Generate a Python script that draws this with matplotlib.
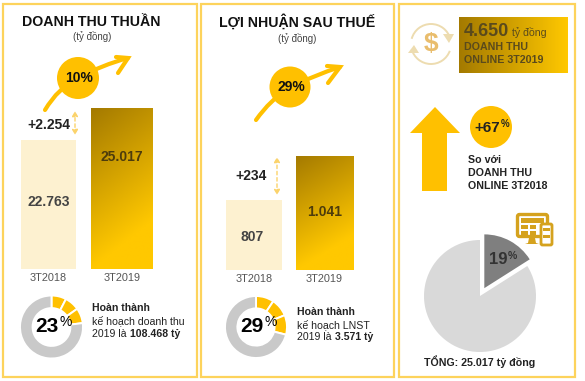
import numpy as np
import matplotlib
matplotlib.use("Agg")
import matplotlib.pyplot as plt
from matplotlib.colors import LinearSegmentedColormap
from matplotlib.patches import Rectangle, Circle, Polygon, PathPatch, Arc, FancyBboxPatch
from matplotlib.path import Path

plt.rcParams["font.family"] = ["Liberation Sans", "DejaVu Sans"]

# ====================================
# data

periods = ["3T2018", "3T2019"]

revenue = [22763, 25017]
revenue_labels = ["22.763", "25.017"]
revenue_axis_floor = 13680   # bars in the picture do not start at zero

profit = [807, 1041]
profit_labels = ["807", "1.041"]
profit_axis_floor = 435

revenue_done = [7.6, 7.6, 7.8, 77.0]   # 23% shown in three pieces
profit_done = [9.4, 9.4, 10.2, 71.0]   # 29% shown in three pieces

online_share = [16, 84]   # drawn slice, printed label says 19%

# ====================================

W, H = 585, 381
YELLOW = "#ffc000"
FRAME = "#fdd35c"
PALE = "#fdf1d0"
gold = LinearSegmentedColormap.from_list("gold", ["#a47a00", "#ffc800"])

fig = plt.figure(figsize=(W / 100, H / 100), dpi=100)


def px_axes(left, top, right, bottom):
    return fig.add_axes([left / W, 1 - bottom / H, (right - left) / W, (bottom - top) / H])


# overlay for text and shapes, sits above the chart axes
ax = px_axes(0, 0, W, H)
ax.set_xlim(0, W)
ax.set_ylim(H, 0)
ax.axis("off")
ax.set_zorder(5)


def txt(x, y, s, size=7.6, bold=False, color="#222222", ha="left"):
    return ax.text(x, y, s, fontsize=size, fontweight="bold" if bold else "normal",
                   color=color, ha=ha, va="center", zorder=10)


# frames
for x0, x1 in [(2.5, 196.5), (201, 393.5), (398.5, 575)]:
    ax.add_patch(Rectangle((x0, 4), x1 - x0, 373, fc="none", ec=FRAME, lw=1.6))


def bars(box, values, floor, widths, xlim):
    bar_ax = px_axes(*box)
    rects = bar_ax.bar([0, 1], values, width=widths, color=[PALE, "#e0aa00"], zorder=2)
    # second bar has a gold gradient, dark in the top left corner
    x0 = rects[1].get_x()
    xx, yy = np.meshgrid(np.linspace(0, 1, 60), np.linspace(0, 1, 120))
    shade = np.clip(yy + 0.3 * xx, 0, 1)
    bar_ax.imshow(shade, cmap=gold, aspect="auto", vmin=0, vmax=1, zorder=3,
                  extent=(x0, x0 + rects[1].get_width(), floor, values[1]))
    bar_ax.set_xlim(*xlim)
    bar_ax.set_ylim(floor, max(values))
    bar_ax.set_xticks([0, 1], periods, fontsize=7.8, color="#555555")
    bar_ax.set_yticks([])
    bar_ax.tick_params(axis="x", length=0, pad=3)
    for s in bar_ax.spines.values():
        s.set_visible(False)
    bar_ax.patch.set_alpha(0)
    return bar_ax


rev_ax = bars((21, 108, 153, 269), revenue, revenue_axis_floor, [0.75, 0.84], (-0.375, 1.42))
rev_ax.text(0, 18380, revenue_labels[0], fontsize=10, fontweight="bold", color="#444444", ha="center", va="center", zorder=5)
rev_ax.text(1, 21550, revenue_labels[1], fontsize=10, fontweight="bold", color="#4d3c0c", ha="center", va="center", zorder=5)

pro_ax = bars((226, 156, 353, 270), profit, profit_axis_floor, [0.794, 0.81], (-0.397, 1.405))
pro_ax.text(-0.03, 613, profit_labels[0], fontsize=10, fontweight="bold", color="#444444", ha="center", va="center", zorder=5)
pro_ax.text(1, 744, profit_labels[1], fontsize=10, fontweight="bold", color="#4d3c0c", ha="center", va="center", zorder=5)

# titles
txt(91.5, 22, "DOANH THU THUẦN", 10.2, True, "#111111", "center")
txt(92, 37, "(tỷ đồng)", 7, False, "#444444", "center")
txt(297, 22, "LỢI NHUẬN SAU THUẾ", 10.2, True, "#111111", "center")
txt(297.5, 38, "(tỷ đồng)", 7, False, "#444444", "center")


# growth arrows with circle
def growth(start, ctrl, mid, ctrl2, tip, head_a, head_b, centre, r, label):
    verts = [start, ctrl, mid, ctrl2, tip]
    codes = [Path.MOVETO, Path.CURVE3, Path.CURVE3, Path.CURVE3, Path.CURVE3]
    ax.add_patch(PathPatch(Path(verts, codes), fc="none", ec=YELLOW, lw=3, capstyle="round"))
    ax.add_patch(PathPatch(Path([head_a, tip, head_b]), fc="none", ec=YELLOW, lw=3,
                           capstyle="round", joinstyle="miter"))
    ax.add_patch(Circle(centre, r, fc=YELLOW, ec="none", zorder=3))
    txt(centre[0] + 1, centre[1], label, 10, True, "#111111", "center")


growth((45, 110), (58, 88), (78, 78), (102, 65), (128, 58), (116, 57), (118, 73), (78, 78), 21, "10%")
growth((256, 120), (270, 100), (290, 87), (315, 75), (340, 67), (327, 66), (328, 83), (290, 87), 20.5, "29%")


# difference markers
def diff_arrow(x, y0, y1):
    ax.annotate("", xy=(x, y0), xytext=(x, y1),
                arrowprops=dict(arrowstyle="<|-|>,head_width=0.17,head_length=0.3", color="#fbd36b",
                                lw=1, linestyle=(0, (2.5, 2)), shrinkA=0, shrinkB=0))


diff_arrow(75, 111, 135)
diff_arrow(277, 157, 195)
txt(49, 125, "+2.254", 10, True, "#222222", "center")
txt(251, 176, "+234", 10, True, "#222222", "center")


# progress rings
def ring(cx, cy, r, parts, hole):
    ring_ax = px_axes(cx - r, cy - r, cx + r, cy + r)
    cols = [YELLOW] * (len(parts) - 1) + ["#c9c9c9"]
    ring_ax.pie(parts, colors=cols, startangle=90, counterclock=False, radius=1,
                wedgeprops=dict(width=1 - hole, edgecolor="white", linewidth=1.4))
    ring_ax.set_xlim(-1, 1)
    ring_ax.set_ylim(-1, 1)


ring(51.5, 327, 31.5, revenue_done, 0.6)
ring(256, 327, 31, profit_done, 0.6)

txt(47, 327, "23", 15, True, "#000000", "center")
txt(65.5, 322, "%", 10, False, "#000000", "center")
txt(251.5, 327, "29", 15, True, "#000000", "center")
txt(270.5, 322, "%", 10, False, "#000000", "center")

txt(92, 308, "Hoàn thành", 7.6, True)
txt(92, 321, "kế hoạch doanh thu", 7.6)
txt(92, 334, "2019 là", 7.6)
txt(130, 334, "108.468 tỷ", 7.6, True)

txt(297, 312, "Hoàn thành", 7.6, True)
txt(297, 325, "kế hoạch LNST", 7.6)
txt(297, 337, "2019 là", 7.6)
txt(335, 337, "3.571 tỷ", 7.6, True)

# online box
box_ax = px_axes(459, 17, 568, 73)
box_ax.imshow(np.linspace(0, 1, 100).reshape(1, -1), cmap=gold, aspect="auto", vmin=0, vmax=1)
box_ax.axis("off")
txt(464, 32, "4.650", 13, True, "#5a4a1c")
txt(512, 33, "tỷ đồng", 7.6, False, "#5a4a1c")
txt(464, 47, "DOANH THU", 7.7, True, "#5a4a1c")
txt(464, 60, "ONLINE 3T2019", 7.7, True, "#5a4a1c")

# dollar icon
ICON = "#eddcb0"
ax.add_patch(Arc((431, 44), 40, 40, theta1=195, theta2=345, ec=ICON, lw=1.4))
ax.add_patch(Arc((431, 44), 40, 40, theta1=20, theta2=165, ec=ICON, lw=1.4))
ax.add_patch(Polygon([(443, 34), (454, 34), (449, 43)], fc=ICON, ec="none"))
ax.add_patch(Polygon([(408, 53), (419, 53), (414, 45)], fc=ICON, ec="none"))
txt(431, 44, "$", 19, True, "#e9bd6d", "center")

# up arrow
ax.add_patch(Polygon([(435, 107), (460, 133), (447, 133), (447, 191), (422, 191), (422, 133), (410, 133)],
                     fc=YELLOW, ec="none"))
ax.add_patch(Circle((491, 127), 21, fc=YELLOW, ec="none", zorder=3))
txt(487, 128, "+67", 11, True, "#222222", "center")
txt(505, 124, "%", 7, True, "#222222", "center")
txt(468, 160, "So với", 7.7, True)
txt(468, 173, "DOANH THU", 7.7, True)
txt(468, 186, "ONLINE 3T2018", 7.7, True)

# online share pie
pie_ax = px_axes(480 - 75, 296 - 75, 480 + 75, 296 + 75)
wedges, _ = pie_ax.pie(online_share, colors=["#7f7f7f", "#d9d9d9"], explode=[0.16, 0], startangle=90,
                       counterclock=False, radius=1)
wedges[0].set_radius(0.96)
pie_ax.set_xlim(-75 / 56, 75 / 56)
pie_ax.set_ylim(-75 / 56, 75 / 56)
txt(498, 259, "19", 12, True, "#333333", "center")
txt(512, 256, "%", 7.5, True, "#333333", "center")
txt(480, 362, "TỔNG: 25.017 tỷ đồng", 7.7, True, "#222222", "center")

# devices icon
DEV = "#d5a21e"
ax.add_patch(FancyBboxPatch((517.5, 214.5), 30, 22, boxstyle="round,pad=0,rounding_size=2",
                            fc="white", ec=DEV, lw=2.4, zorder=4))
ax.add_patch(Rectangle((521, 218), 23, 5, fc=DEV, ec="none", zorder=5))
ax.add_patch(Rectangle((521, 225), 7, 4, fc=DEV, ec="none", zorder=5))
ax.add_patch(Rectangle((530, 225), 6, 4, fc=DEV, ec="none", zorder=5))
ax.add_patch(Rectangle((521, 231), 7, 4, fc=DEV, ec="none", zorder=5))
ax.add_patch(Rectangle((530, 231), 6, 4, fc=DEV, ec="none", zorder=5))
ax.add_patch(Polygon([(529, 238), (535, 238), (536, 243), (539, 244), (525, 244), (528, 243)], fc=DEV, ec="none", zorder=5))
ax.add_patch(FancyBboxPatch((541, 224), 11, 21, boxstyle="round,pad=0,rounding_size=1.5",
                            fc="white", ec=DEV, lw=2, zorder=6))
ax.add_patch(Rectangle((543, 228), 7, 3, fc=DEV, ec="none", zorder=7))
ax.add_patch(Rectangle((543, 235), 7, 3, fc=DEV, ec="none", zorder=7))

fig.savefig("out.png", dpi=100)
